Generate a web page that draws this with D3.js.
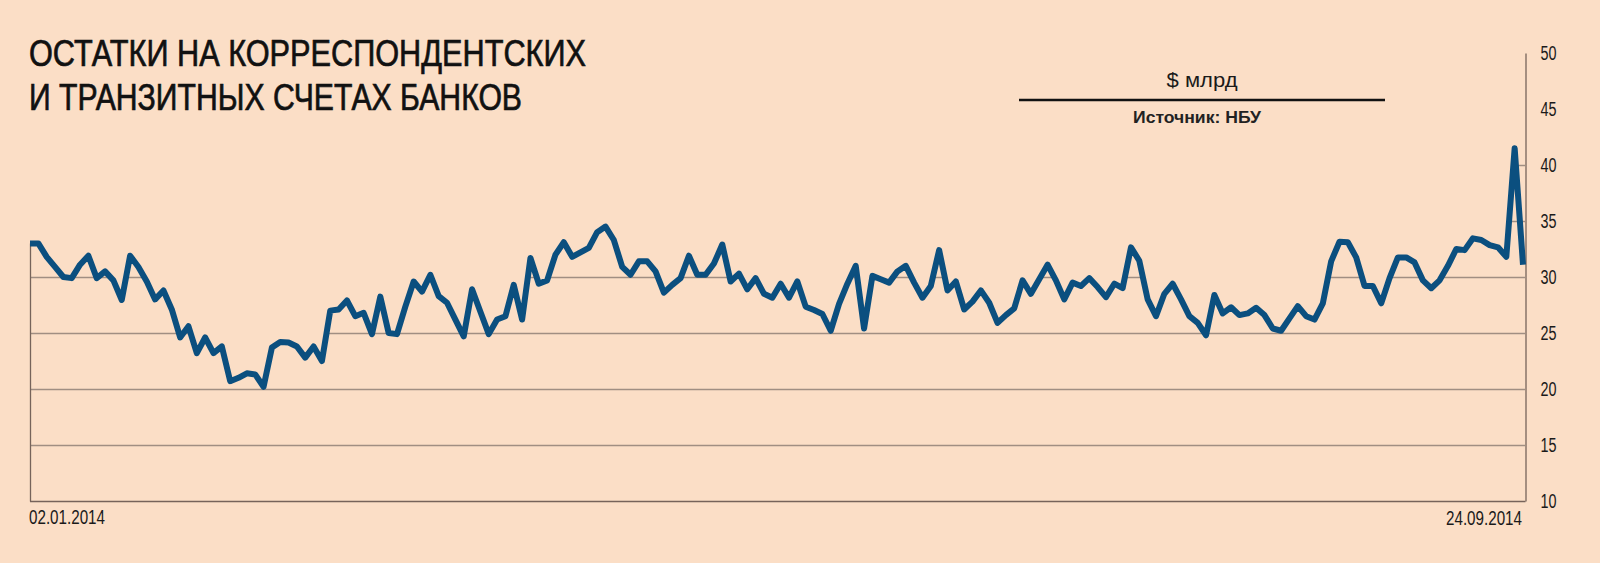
<!DOCTYPE html>
<html>
<head>
<meta charset="utf-8">
<script src="https://cdn.jsdelivr.net/npm/d3@7"></script>
<style>
  html, body { margin: 0; padding: 0; background: #FBDEC6; }
  svg { display: block; }
</style>
</head>
<body>
<svg id="chart" width="1600" height="563"></svg>
<script>
// ---- data ----
const titleLines = ["ОСТАТКИ НА КОРРЕСПОНДЕНТСКИХ", "И ТРАНЗИТНЫХ СЧЕТАХ БАНКОВ"];
const unitLabel = "$ млрд";
const sourceLabel = "Источник: НБУ";
const xTickLabels = ["02.01.2014", "24.09.2014"];
const yTicks = [10, 15, 20, 25, 30, 35, 40, 45, 50];
const gridTicks = [15, 20, 25, 30, 35, 40, 45];
// daily balances, $ bn (02.01.2014 – 24.09.2014)
const values = [
  33.0, 33.0, 31.8, 30.9, 30.0, 29.9, 31.1, 31.9, 29.9, 30.5,
  29.7, 27.95, 31.9, 30.9, 29.6, 28.0, 28.8, 27.1, 24.6, 25.6,
  23.2, 24.6, 23.2, 23.8, 20.7, 21.0, 21.4, 21.3, 20.2, 23.7,
  24.2, 24.15, 23.8, 22.8, 23.8, 22.5, 27.0, 27.1, 27.9, 26.5,
  26.8, 24.9, 28.25, 25.0, 24.9, 27.35, 29.6, 28.7, 30.2, 28.3,
  27.7, 26.2, 24.7, 28.9, 26.9, 24.9, 26.2, 26.5, 29.3, 26.2,
  31.7, 29.4, 29.7, 32.0, 33.1, 31.8, 32.2, 32.6, 34.0, 34.5,
  33.3, 30.9, 30.2, 31.4, 31.4, 30.5, 28.6, 29.3, 29.9, 31.9,
  30.2, 30.2, 31.2, 32.9, 29.6, 30.3, 28.9, 29.9, 28.5, 28.15,
  29.4, 28.15, 29.6, 27.35, 27.05, 26.7, 25.2, 27.6, 29.4, 31.0,
  25.4, 30.1, 29.8, 29.5, 30.5, 31.0, 29.5, 28.15, 29.2, 32.4,
  28.8, 29.6, 27.1, 27.8, 28.8, 27.7, 25.9, 26.6, 27.2, 29.7,
  28.5, 29.8, 31.1, 29.7, 28.0, 29.5, 29.2, 29.9, 29.1, 28.2,
  29.4, 29.0, 32.65, 31.45, 28.0, 26.5, 28.5, 29.4, 28.0, 26.5,
  25.9, 24.8, 28.4, 26.75, 27.3, 26.6, 26.75, 27.25, 26.6, 25.4,
  25.2, 26.3, 27.4, 26.5, 26.2, 27.65, 31.4, 33.15, 33.1, 31.75,
  29.2, 29.2, 27.65, 29.9, 31.75, 31.75, 31.3, 29.7, 29.0, 29.7,
  31.0, 32.5, 32.4, 33.45, 33.3, 32.85, 32.65, 31.8, 41.5, 31.1
];

// ---- layout ----
const W = 1600, H = 563;
const plot = { left: 30, right: 1525, top: 53, bottom: 501 };
const lineColor = "#0B4F7F";
const gridColor = "#A08E82";
const axisColor = "#76635A";
const bg = "#FBDEC6";
const font = "'Liberation Sans', Arial, sans-serif";

const svg = d3.select("#chart");
svg.append("rect").attr("width", W).attr("height", H).attr("fill", bg);

const x = d3.scaleLinear().domain([0, values.length - 1]).range([plot.left, plot.right - 2]);
const y = d3.scaleLinear().domain([10, 50]).range([plot.bottom, plot.top]);

// clip: area under the curve
const area = d3.area().x((d, i) => x(i)).y0(plot.bottom).y1(d => y(d));
const defs = svg.append("defs");
const cp = defs.append("clipPath").attr("id", "under");
cp.append("path").attr("d", area(values));
const iMax = d3.maxIndex(values);
cp.append("rect")
  .attr("x", x(iMax)).attr("y", y(values[iMax]))
  .attr("width", plot.right - x(iMax)).attr("height", plot.bottom - y(values[iMax]));

// gridlines clipped under the line
svg.append("g").attr("clip-path", "url(#under)")
  .selectAll("line").data(gridTicks).join("line")
  .attr("x1", plot.left).attr("x2", plot.right)
  .attr("y1", d => y(d) + 0.5).attr("y2", d => y(d) + 0.5)
  .attr("stroke", gridColor).attr("stroke-width", 1.3);

// axes frame
svg.append("line").attr("x1", plot.left).attr("x2", plot.right + 0.5)
  .attr("y1", plot.bottom + 0.5).attr("y2", plot.bottom + 0.5)
  .attr("stroke", axisColor).attr("stroke-width", 1.3);
svg.append("line").attr("x1", plot.left + 0.5).attr("x2", plot.left + 0.5)
  .attr("y1", y(values[0])).attr("y2", plot.bottom + 0.5)
  .attr("stroke", axisColor).attr("stroke-width", 1.3);

// right axis via d3.axisRight
const yAxis = d3.axisRight(y).tickValues(yTicks).tickSize(0).tickPadding(15).tickFormat(d3.format("d"));
const gy = svg.append("g").attr("transform", `translate(${plot.right + 0.5},0)`).call(yAxis);
gy.select(".domain").attr("stroke", axisColor).attr("stroke-width", 1.3);
gy.selectAll("text")
  .attr("fill", "#1a1a1a")
  .attr("font-family", font)
  .attr("font-size", 20)
  .attr("textLength", 16)
  .attr("lengthAdjust", "spacingAndGlyphs");

// line
const line = d3.line().x((d, i) => x(i)).y(d => y(d));
svg.append("path").attr("d", line(values))
  .attr("fill", "none").attr("stroke", lineColor)
  .attr("stroke-width", 6).attr("stroke-linejoin", "round").attr("stroke-linecap", "butt");

// x labels
svg.append("text").text(xTickLabels[0])
  .attr("x", plot.left - 1).attr("y", 524)
  .attr("font-family", font).attr("font-size", 20)
  .attr("fill", "#1a1a1a").attr("textLength", 76).attr("lengthAdjust", "spacingAndGlyphs");
svg.append("text").text(xTickLabels[1])
  .attr("x", 1522 - 76).attr("y", 525)
  .attr("font-family", font).attr("font-size", 20)
  .attr("fill", "#1a1a1a").attr("textLength", 76).attr("lengthAdjust", "spacingAndGlyphs");

// title
const titleWidths = [557, 493];
svg.selectAll("text.title").data(titleLines).join("text")
  .attr("class", "title")
  .attr("x", 29).attr("y", (d, i) => 66 + i * 44)
  .attr("font-family", font)
  .attr("font-size", 37)
  .attr("fill", "#111").attr("stroke", "#111").attr("stroke-width", 0.7)
  .attr("textLength", (d, i) => titleWidths[i]).attr("lengthAdjust", "spacingAndGlyphs")
  .text(d => d);

// unit & source
svg.append("text").text(unitLabel)
  .attr("x", 1202).attr("y", 87).attr("text-anchor", "middle")
  .attr("font-family", font).attr("font-size", 21)
  .attr("fill", "#1a1a1a").attr("textLength", 71).attr("lengthAdjust", "spacingAndGlyphs");
svg.append("line").attr("x1", 1019).attr("x2", 1385).attr("y1", 100).attr("y2", 100)
  .attr("stroke", "#111").attr("stroke-width", 2.4);
svg.append("text").text(sourceLabel)
  .attr("x", 1197).attr("y", 123).attr("text-anchor", "middle")
  .attr("font-family", font).attr("font-weight", "bold").attr("font-size", 16)
  .attr("fill", "#222").attr("textLength", 128).attr("lengthAdjust", "spacingAndGlyphs");
</script>
</body>
</html>
